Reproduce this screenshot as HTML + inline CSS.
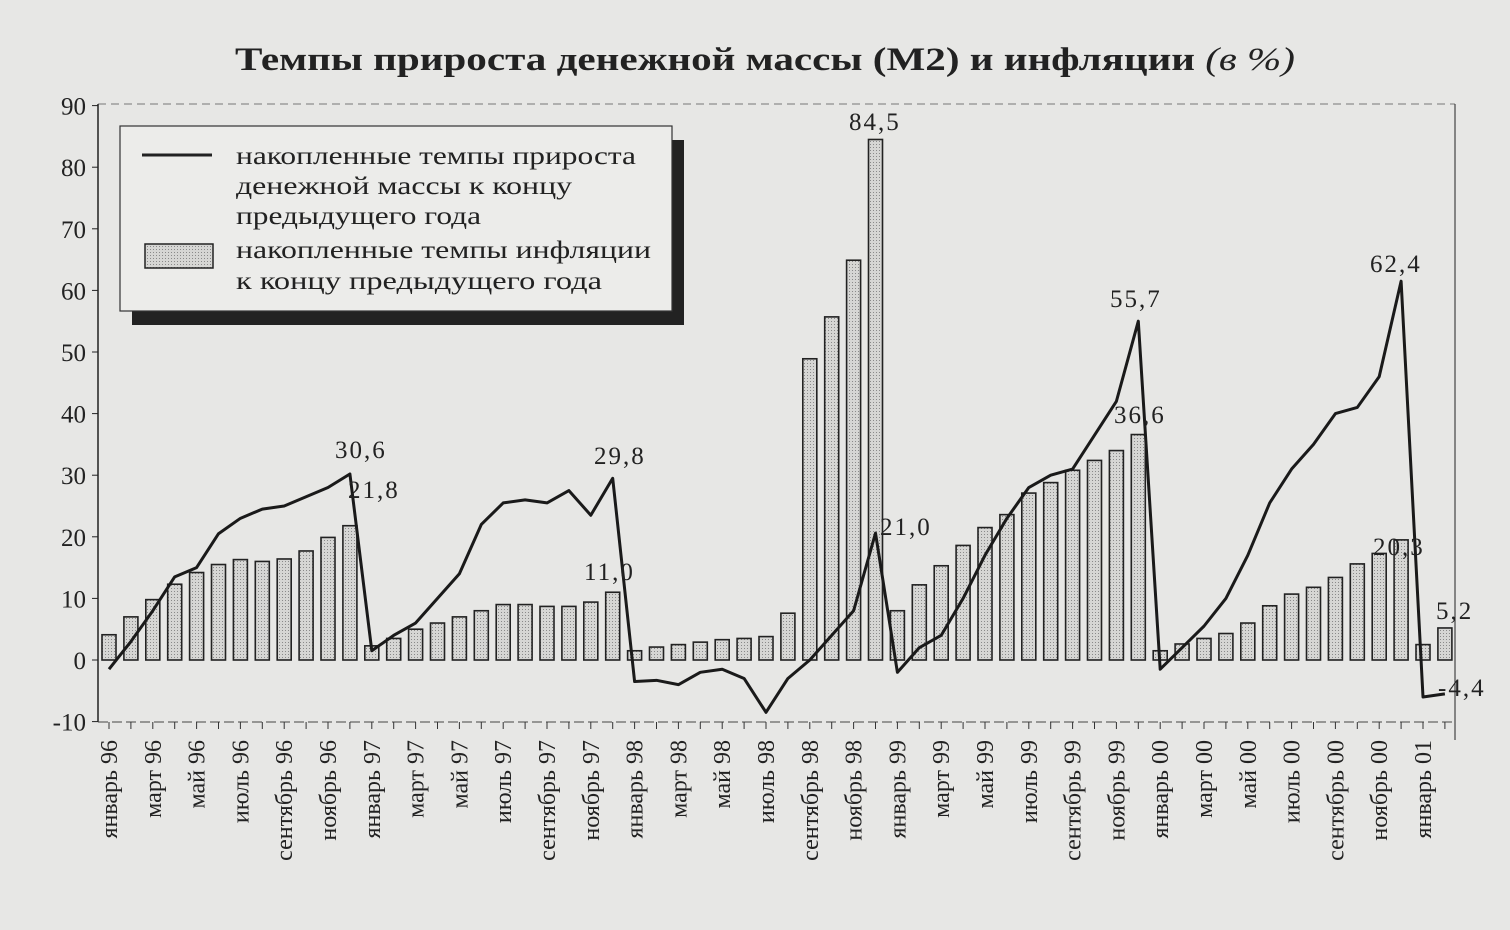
<!DOCTYPE html>
<html><head><meta charset="utf-8"><style>
html,body{margin:0;padding:0;background:#e7e7e5;}
svg{display:block;font-family:"Liberation Serif",serif;}
</style></head><body>
<svg id="s" width="1510" height="930" xmlns="http://www.w3.org/2000/svg">
<defs>
<pattern id="dots" width="3" height="3" patternUnits="userSpaceOnUse">
<rect width="3" height="3" fill="#d6d6d4"/><rect width="1" height="1" fill="#8a8a8a"/>
</pattern>
</defs>
<rect width="1510" height="930" fill="#e7e7e5"/>
<text x="235" y="70" font-size="33" font-weight="bold" fill="#222" textLength="1060" lengthAdjust="spacingAndGlyphs">Темпы прироста денежной массы (М2) и инфляции <tspan font-style="italic" font-weight="normal">(в %)</tspan></text>
<line x1="98" y1="104" x2="1455" y2="104" stroke="#777" stroke-dasharray="8,5" stroke-width="1"/>
<line x1="1455" y1="104" x2="1455" y2="740" stroke="#444" stroke-width="1.2"/>
<line x1="98" y1="104" x2="98" y2="722" stroke="#222" stroke-width="1.5"/>
<line x1="98" y1="722" x2="1455" y2="722" stroke="#444" stroke-width="1" stroke-dasharray="10,4"/>
<g id="g"></g>
<rect x="132" y="140" width="552" height="185" fill="#222"/>
<rect x="120" y="126" width="552" height="185" fill="#ececea" stroke="#333" stroke-width="1.2"/>
<line x1="142" y1="155" x2="212" y2="155" stroke="#222" stroke-width="3"/>
<rect x="145" y="244" width="68" height="24" fill="url(#dots)" stroke="#222" stroke-width="1.5"/>
<g font-size="25" fill="#222">
<text x="236" y="164" textLength="400" lengthAdjust="spacingAndGlyphs">накопленные темпы прироста</text>
<text x="236" y="194" textLength="336" lengthAdjust="spacingAndGlyphs">денежной массы к концу</text>
<text x="236" y="224" textLength="245" lengthAdjust="spacingAndGlyphs">предыдущего года</text>
<text x="236" y="258" textLength="415" lengthAdjust="spacingAndGlyphs">накопленные темпы инфляции</text>
<text x="236" y="289" textLength="366" lengthAdjust="spacingAndGlyphs">к концу предыдущего года</text>
</g>
<g font-size="25" fill="#222" letter-spacing="2">
<text x="335" y="458">30,6</text><text x="348" y="498">21,8</text>
<text x="594" y="464">29,8</text><text x="584" y="580">11,0</text>
<text x="849" y="130">84,5</text><text x="880" y="535">21,0</text>
<text x="1110" y="307">55,7</text><text x="1114" y="423">36,6</text>
<text x="1370" y="272">62,4</text><text x="1373" y="555">20,3</text>
<text x="1436" y="619">5,2</text><text x="1438" y="696">-4,4</text>
</g>
</svg>
<script>
var g=document.getElementById('g');
function Y(v){return 660-v*6.16;}
function X(i){return 109+i*21.9;}
var bars=[4.1,7,9.8,12.3,14.2,15.5,16.3,16,16.4,17.7,19.9,21.8,
2.3,3.5,5,6,7,8,9,9,8.7,8.7,9.4,11,
1.5,2.1,2.5,2.9,3.3,3.5,3.8,7.6,48.9,55.7,64.9,84.5,
8,12.2,15.3,18.6,21.5,23.6,27.1,28.8,30.8,32.4,34,36.6,
1.5,2.6,3.5,4.3,6,8.8,10.7,11.8,13.4,15.6,17.3,19.5,
2.5,5.2];
var line=[-1.5,3,8,13.5,15,20.5,23,24.5,25,26.5,28,30.2,
1.5,4,6,10,14,22,25.5,26,25.5,27.5,23.5,29.5,
-3.5,-3.3,-4,-2,-1.5,-3,-8.5,-3,0,4,8,20.6,
-2,2,4,10,17,23,28,30,31,36.5,42,55,
-1.5,2,5.5,10,17,25.5,31,35,40,41,46,61.5,
-6,-5.5];
var h='';
bars.forEach(function(v,i){var x=X(i)-7;h+='<rect x="'+x+'" y="'+Y(v)+'" width="14" height="'+(v*6.16)+'" fill="url(#dots)" stroke="#222" stroke-width="1.6"/>';});
var p=line.map(function(v,i){return X(i)+','+Y(v);}).join(' ');
h+='<polyline points="'+p+'" fill="none" stroke="#1a1a1a" stroke-width="3" stroke-linejoin="round"/>';
for(var k=0;k<=10;k++){var v=90-k*10,y=Y(v);h+='<line x1="92" y1="'+y+'" x2="98" y2="'+y+'" stroke="#222"/>';h+='<text x="86" y="'+(y+9)+'" text-anchor="end" font-size="25" fill="#222">'+v+'</text>';}
var m=['январь','март','май','июль','сентябрь','ноябрь'];
for(var i=0;i<62;i++){var x=X(i);h+='<line x1="'+x+'" y1="722" x2="'+x+'" y2="729" stroke="#333"/>';
if(i%2==0){var yr=96+Math.floor(i/12);var ys=yr>=100?'0'+(yr-100):''+yr;var t=m[(i%12)/2]+' '+ys;
h+='<text transform="translate('+(x+8)+',740) rotate(-90)" text-anchor="end" font-size="24" fill="#222">'+t+'</text>';}}
g.innerHTML=h;
</script>
</body></html>
